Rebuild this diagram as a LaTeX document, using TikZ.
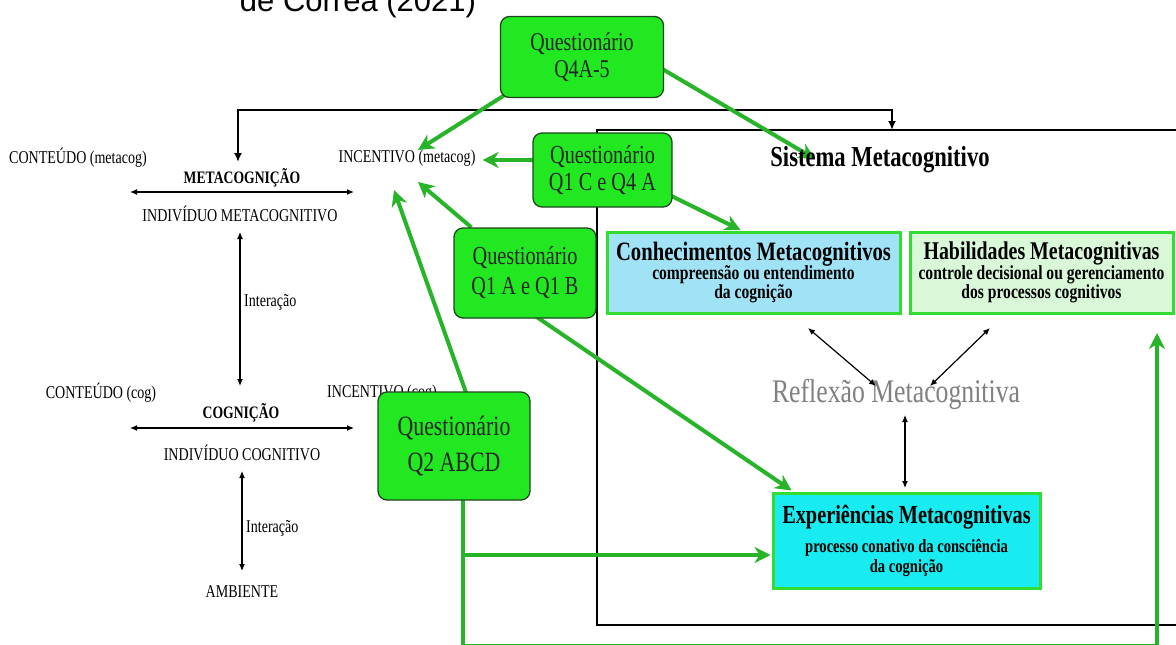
\documentclass[tikz,border=0pt]{standalone}
\usepackage{fontspec}
\setmainfont{Liberation Serif}[FakeStretch=0.78]
\newfontfamily\capfont{Liberation Sans}
\usetikzlibrary{arrows.meta,calc,backgrounds}

\definecolor{qfill}{RGB}{34,232,34}
\definecolor{qline}{RGB}{30,70,30}
\definecolor{garrow}{RGB}{40,180,40}
\definecolor{mline}{RGB}{50,220,50}
\definecolor{conhfill}{RGB}{160,226,246}
\definecolor{habfill}{RGB}{216,248,216}
\definecolor{expfill}{RGB}{24,236,240}
\definecolor{reflgray}{RGB}{128,128,128}

\newcommand\fsz[2]{\fontsize{#1}{#2}\selectfont}
\newcommand\bigt{\fontsize{26.5}{28}\selectfont}
\newcommand\subt{\fontsize{20}{20}\selectfont}

\begin{document}
\begin{tikzpicture}[x=1pt,y=-1pt,
  lbl/.style={font=\fsz{18}{20}, inner sep=0},
  lblb/.style={font=\bfseries\fsz{17.5}{20}, inner sep=0},
  small/.style={font=\fsz{18}{20}, inner sep=0, anchor=west},
  qbox/.style={draw=qline, line width=1.3pt, fill=qfill, rounded corners=9pt,
               align=center, inner sep=0, text=black!85},
  mbox/.style={draw=mline, line width=3pt, align=center, inner sep=0, font=\bfseries},
  barr/.style={line width=1.2pt, {Latex[length=7pt,width=6pt]}-{Latex[length=7pt,width=6pt]}},
  bracket/.style={line width=1.8pt, {Latex[length=9pt,width=8pt]}-{Latex[length=9pt,width=8pt]}},
  garr/.style={draw=garrow, line width=4pt, -{Stealth[length=16pt,width=16pt,inset=5pt]}},
]
\useasboundingbox (0,0) rectangle (1176,645);

% reference line at the very top
\node[font=\capfont\fsz{31}{36}, anchor=base, inner sep=0] (src) at (358,11) {de Correa (2021)};

% ---- left column: metacognition / cognition ----
\node[lbl]  (contM) at (78,158)  {CONTEÚDO (metacog)};
\node[lbl]  (incM)  at (407,158) {INCENTIVO (metacog)};
\node[lblb] (meta)  at (242,178) {METACOGNIÇÃO};
\node[lbl]  (indM)  at (240,214) {INDIVÍDUO METACOGNITIVO};
\node[small] (intM) at (244,302) {Interação};

\node[lbl]  (contC) at (101,393) {CONTEÚDO (cog)};
\node[lbl]  (incC)  at (382,393) {INCENTIVO (cog)};
\node[lblb] (cogn)  at (241,413) {COGNIÇÃO};
\node[lbl]  (indC)  at (242,453) {INDIVÍDUO COGNITIVO};
\node[small] (intC) at (246,528) {Interação};
\node[lbl]  (amb)   at (242,592) {AMBIENTE};

\coordinate (mL) at (130,192);  \coordinate (mR) at (354,192);
\coordinate (vM1) at (240,232); \coordinate (vM2) at (240,386);
\coordinate (cL) at (130,428);  \coordinate (cR) at (354,428);
\coordinate (vC1) at (242,471); \coordinate (vC2) at (242,571);
\draw[barr] (mL) -- (mR);
\draw[barr] (vM1) -- (vM2);
\draw[barr] (cL) -- (cR);
\draw[barr] (vC1) -- (vC2);

% ---- metacognitive system ----
\coordinate (sysTop) at (892,130);
\coordinate (brR) at (892,110);
\coordinate (brTipL) at (238,162);

\node[font=\bfseries\fsz{29}{30}, inner sep=0] (sysT) at (880,160) {Sistema Metacognitivo};

\node[mbox, fill=conhfill, minimum width=293, minimum height=81] (conh) at (753.5,272.5)
  {\bigt Conhecimentos Metacognitivos\\[-1pt]
   \subt compreensão ou entendimento\\\subt da cognição};
\node[mbox, fill=habfill, minimum width=263, minimum height=81] (hab) at (1041.5,272.5)
  {\fontsize{25.5}{28}\selectfont Habilidades Metacognitivas\\[-1pt]
   \subt controle decisional ou gerenciamento\\\subt dos processos cognitivos};
\node[font=\fsz{33}{36}, text=reflgray, inner sep=0] (refl) at (896,394) {Reflexão Metacognitiva};
\node[mbox, fill=expfill, minimum width=267, minimum height=95] (expm) at (906.5,540.5)
  {\fontsize{26}{28}\selectfont Experiências Metacognitivas\\[9pt]
   \fontsize{18.7}{20}\selectfont processo conativo da consciência\\[2pt]\fontsize{18.7}{20}\selectfont da cognição};

\coordinate (k1) at (808,328); \coordinate (k2) at (876,386);
\coordinate (h1) at (990,328); \coordinate (h2) at (930,386);
\coordinate (r1) at (905,415); \coordinate (r2) at (905,488);
\draw[barr] (k1) -- (k2);
\draw[barr] (h1) -- (h2);
\draw[barr] (r1) -- (r2);

% ---- questionnaires ----
\node[qbox, minimum width=163, minimum height=81, font=\fsz{25.6}{27}] (q4)  at (582,57)    {Questionário\\Q4A-5};
\node[qbox, minimum width=139, minimum height=74, font=\fsz{26}{27}]   (q1c) at (602.5,170)  {Questionário\\Q1 C e Q4 A};
\node[qbox, minimum width=142, minimum height=90, font=\fsz{26}{30}]   (q1a) at (525,273)    {Questionário\\Q1 A e Q1 B};
\node[qbox, minimum width=152, minimum height=108,font=\fsz{28}{36}]   (q2)  at (454,446)    {Questionário\\Q2 ABCD};

\coordinate (tInc1) at (418,150);
\coordinate (tSys)  at (815,159);
\coordinate (tInc2) at (418,182);
\coordinate (tInc3) at (394,190);
\coordinate (jn)    at (463,555);
\coordinate (tHab)  at (1157,333);

\begin{scope}[on background layer]
  \fill[white] (0,0) rectangle (1176,645);
  % frame of the metacognitive system
  \draw[line width=2pt] (1190,130) -- (597,130) -- (597,625) -- (1190,625);
  % bracket linking metacognition and the system
  \draw[bracket] (brTipL) |- (brR) -- (sysTop);
  % questionnaire links
  \draw[garr] ($(q4)+(-22,3)$) -- (tInc1);
  \draw[garr] ($(q4)+(60,0)$) -- (tSys);
  \draw[garr] ($(q1c)+(0,-10)$) -- ($(incM.east)+(7,2)$);
  \draw[garr, shorten >=1pt] ($(q1c)+(0,-8)$) -- ($(conh.north)+(-12,0)$);
  \draw[garr] (q1a) -- (tInc2);
  \draw[garr] ($(q2)+(31,0)$) -- (tInc3);
  \draw[garr] ($(q1a)+(0,36)$) -- ($(expm.north west)+(20,-1)$);
  \draw[garr, shorten >=1pt] (jn) -- (jn -| expm.west);
  \draw[garr] ($(q2.south)+(9,-5)$) -- ++(0,150.5) -| (tHab);
\end{scope}
\end{tikzpicture}
\end{document}
